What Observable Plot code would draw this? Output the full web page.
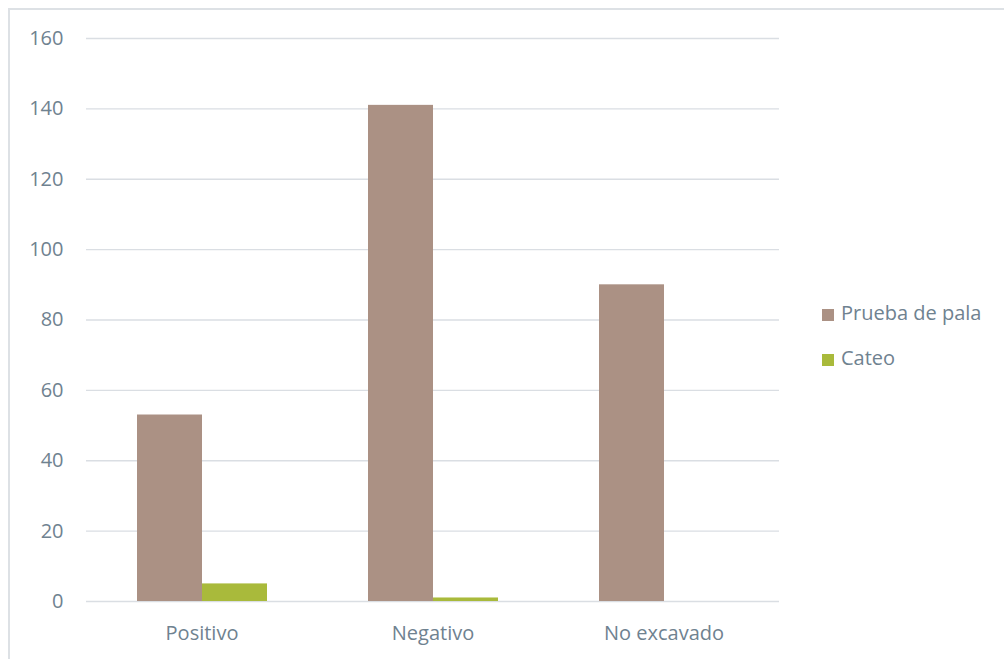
<!DOCTYPE html>
<html>
<head>
<meta charset="utf-8">
<script src="https://cdn.jsdelivr.net/npm/d3@7"></script>
<script src="https://cdn.jsdelivr.net/npm/@observablehq/plot@0.6"></script>
<style>
  body { margin: 0; background: #fff; font-family: "Open Sans", sans-serif; }
  #frame { position: absolute; left: 8px; top: 8px; width: 1100px; height: 800px; border: 2px solid #DDE1E5; box-sizing: border-box; }
  #chart { position: absolute; left: 0; top: 0; }
  #legend { position: absolute; left: 822px; top: 300px; color: #6F8290; font-size: 20px; }
  .item { position: absolute; left: 0; white-space: nowrap; height: 26px; line-height: 26px; }
  .sw { display: inline-block; width: 12px; height: 12px; margin-right: 7px; vertical-align: -1px; }
</style>
</head>
<body>
<div id="frame"></div>
<div id="chart"></div>
<div id="legend"></div>
<script>
const categories = ["Positivo", "Negativo", "No excavado"];
const series = ["Prueba de pala", "Cateo"];
const pruebaDePala = [53, 141, 90];
const cateo = [5, 1, 0];
const yTicks = [0, 20, 40, 60, 80, 100, 120, 140, 160];
const colors = ["#AB9184", "#A9BA3B"];

const data = [];
categories.forEach((c, i) => {
  data.push({category: c, series: series[0], value: pruebaDePala[i]});
  data.push({category: c, series: series[1], value: cateo[i]});
});

const chart = Plot.plot({
  width: 1004,
  height: 659,
  marginLeft: 85,
  marginRight: 224,
  marginTop: 38,
  marginBottom: 58,
  style: {fontFamily: "Open Sans", fontSize: "20px", color: "#6F8290", background: "transparent", overflow: "visible"},
  fx: {domain: categories, padding: 0, label: null, axis: null},
  x: {domain: series, paddingInner: 0, paddingOuter: 0.755, axis: null},
  y: {domain: [0, 160], label: null, axis: null},
  color: {domain: series, range: colors},
  marks: [
    Plot.ruleY(yTicks, {stroke: "#DADEE3", strokeWidth: 1.4}),
    Plot.barY(data, {fx: "category", x: "series", y: "value", fill: "series"}),
    Plot.axisY(yTicks, {tickSize: 0, tickPadding: 23, label: null, fill: "#6F8290"}),
    Plot.axisFx({anchor: "bottom", tickSize: 0, tickPadding: 24, label: null, fill: "#6F8290"})
  ]
});
document.getElementById("chart").appendChild(chart);

const legend = document.getElementById("legend");
series.forEach((s, i) => {
  const item = document.createElement("div");
  item.className = "item";
  item.style.top = (i * 45) + "px";
  item.innerHTML = `<span class="sw" style="background:${colors[i]}"></span>${s}`;
  legend.appendChild(item);
});
</script>
</body>
</html>
